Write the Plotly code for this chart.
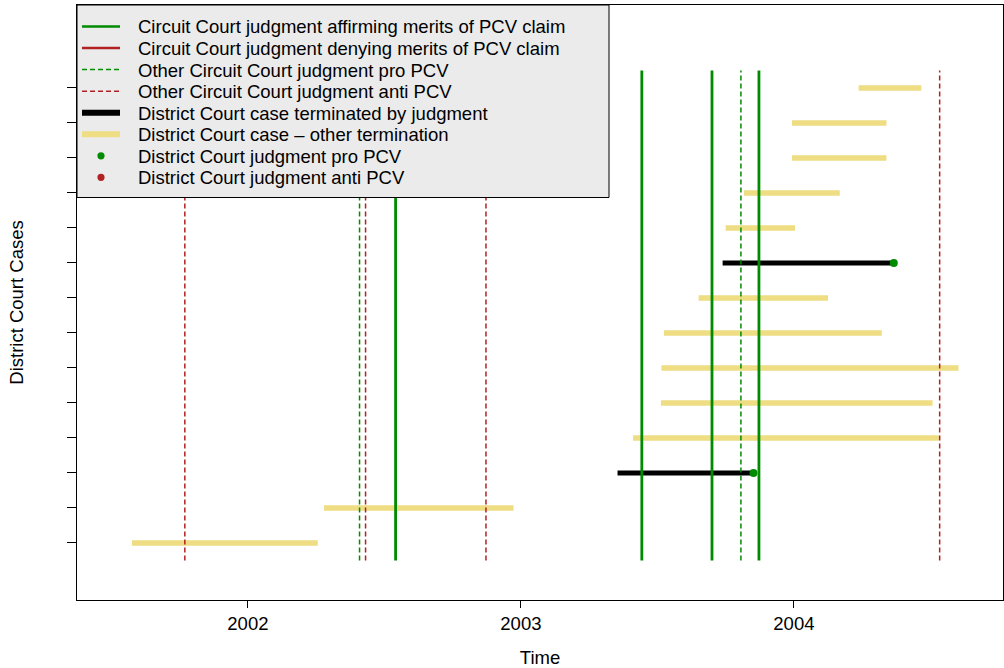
import plotly.graph_objects as go

# ---- data (decimal years) ----
case_row = [1, 2, 3, 4, 5, 6, 7, 8, 9, 10, 11, 12, 13, 14]
case_start = [2001.575, 2002.279, 2003.354, 2003.411, 2003.513, 2003.515, 2003.524,
              2003.651, 2003.739, 2003.750, 2003.817, 2003.993, 2003.993, 2004.237]
case_end = [2002.256, 2002.973, 2003.852, 2004.531, 2004.508, 2004.603, 2004.322,
            2004.125, 2004.366, 2004.004, 2004.168, 2004.339, 2004.339, 2004.467]
case_type = ["other", "other", "judgment", "other", "other", "other", "other",
             "other", "judgment", "other", "other", "other", "other", "other"]
case_outcome = [None, None, "pro", None, None, None, None,
                None, "pro", None, None, None, None, None]

cc_affirm = [2002.541, 2003.443, 2003.700, 2003.872]
cc_deny = []
cc_other_pro = [2002.409, 2003.806]
cc_other_anti = [2001.769, 2002.431, 2002.872, 2004.534]
vline_span = [0.5, 14.5]

x_ticks = [2002, 2003, 2004]
x_tick_labels = ["2002", "2003", "2004"]

legend_labels = [
    "Circuit Court judgment affirming merits of PCV claim",
    "Circuit Court judgment denying merits of PCV claim",
    "Other Circuit Court judgment pro PCV",
    "Other Circuit Court judgment anti PCV",
    "District Court case terminated by judgment",
    "District Court case \u2013 other termination",
    "District Court judgment pro PCV",
    "District Court judgment anti PCV",
]

GREEN = "#008B00"
RED = "#B22222"
YELLOW = "#EEDD82"
FONT = "Liberation Sans, Arial, Helvetica, sans-serif"

# plot-area geometry (pixels) used for the legend box placement
W, H = 1004, 668
ML, MR, MT, MB = 77, 1, 5, 68
PW, PH = W - ML - MR, H - MT - MB


def px(xp):
    return (xp - ML) / PW


def py(yp):
    return (MT + PH - yp) / PH


def seg_xy(starts, ends, rows):
    xs, ys = [], []
    for s, e, r in zip(starts, ends, rows):
        xs += [s, e, None]
        ys += [r, r, None]
    return xs, ys


def vlines(vals):
    xs, ys = [], []
    for v in vals:
        xs += [v, v, None]
        ys += [vline_span[0], vline_span[1], None]
    if not xs:
        xs, ys = [None], [None]
    return xs, ys


fig = go.Figure()

oth = [i for i, t in enumerate(case_type) if t == "other"]
jud = [i for i, t in enumerate(case_type) if t == "judgment"]
ox, oy = seg_xy([case_start[i] for i in oth], [case_end[i] for i in oth], [case_row[i] for i in oth])
jx, jy = seg_xy([case_start[i] for i in jud], [case_end[i] for i in jud], [case_row[i] for i in jud])

ax_, ay_ = vlines(cc_affirm)
dx_, dy_ = vlines(cc_deny)
pxs, pys = vlines(cc_other_pro)
nxs, nys = vlines(cc_other_anti)

fig.add_trace(go.Scatter(x=ox, y=oy, mode="lines", line=dict(color=YELLOW, width=5.5),
                         name=legend_labels[5], showlegend=False))
fig.add_trace(go.Scatter(x=jx, y=jy, mode="lines", line=dict(color="black", width=5),
                         name=legend_labels[4], showlegend=False))
fig.add_trace(go.Scatter(x=ax_, y=ay_, mode="lines", line=dict(color=GREEN, width=2.8),
                         name=legend_labels[0], showlegend=False))
fig.add_trace(go.Scatter(x=dx_, y=dy_, mode="lines", line=dict(color=RED, width=2.8),
                         name=legend_labels[1], showlegend=False))
fig.add_trace(go.Scatter(x=pxs, y=pys, mode="lines", line=dict(color=GREEN, width=1.5, dash="5px,3px"),
                         name=legend_labels[2], showlegend=False))
fig.add_trace(go.Scatter(x=nxs, y=nys, mode="lines", line=dict(color=RED, width=1.5, dash="5px,3px"),
                         name=legend_labels[3], showlegend=False))

pro_x = [case_end[i] for i in range(len(case_row)) if case_outcome[i] == "pro"]
pro_y = [case_row[i] for i in range(len(case_row)) if case_outcome[i] == "pro"]
anti_x = [case_end[i] for i in range(len(case_row)) if case_outcome[i] == "anti"]
anti_y = [case_row[i] for i in range(len(case_row)) if case_outcome[i] == "anti"]
fig.add_trace(go.Scatter(x=pro_x or [None], y=pro_y or [None], mode="markers",
                         marker=dict(color=GREEN, size=8), name=legend_labels[6], showlegend=False))
fig.add_trace(go.Scatter(x=anti_x or [None], y=anti_y or [None], mode="markers",
                         marker=dict(color=RED, size=8), name=legend_labels[7], showlegend=False))

# ---- legend box (drawn as layout shapes/annotations) ----
shapes = [dict(type="rect", xref="paper", yref="paper", layer="above",
               x0=px(77), x1=px(609), y0=py(197.5), y1=py(5),
               fillcolor="#EBEBEB", line=dict(color="black", width=1))]
annotations = []
leg_styles = [
    dict(kind="line", color=GREEN, width=2.5, dash="solid"),
    dict(kind="line", color=RED, width=2.5, dash="solid"),
    dict(kind="line", color=GREEN, width=1.5, dash="5px,3px"),
    dict(kind="line", color=RED, width=1.5, dash="5px,3px"),
    dict(kind="line", color="black", width=6, dash="solid"),
    dict(kind="line", color=YELLOW, width=6, dash="solid"),
    dict(kind="dot", color=GREEN),
    dict(kind="dot", color=RED),
]
row0, step = 26.5, 21.55
for k, (lab, st) in enumerate(zip(legend_labels, leg_styles)):
    yy = row0 + k * step
    if st["kind"] == "line":
        shapes.append(dict(type="line", xref="paper", yref="paper", layer="above",
                           x0=px(82), x1=px(120), y0=py(yy), y1=py(yy),
                           line=dict(color=st["color"], width=st["width"], dash=st["dash"])))
    else:
        r = 3.6
        shapes.append(dict(type="circle", xref="paper", yref="paper", layer="above",
                           x0=px(101 - r), x1=px(101 + r), y0=py(yy + r), y1=py(yy - r),
                           fillcolor=st["color"], line=dict(color=st["color"], width=0)))
    annotations.append(dict(text=lab, xref="paper", yref="paper", x=px(137), y=py(yy + 0.5),
                            xanchor="left", yanchor="middle", showarrow=False,
                            font=dict(family=FONT, size=18.5, color="black"), borderpad=0))

fig.update_layout(
    width=W, height=H,
    margin=dict(l=ML, r=MR, t=MT, b=MB),
    plot_bgcolor="white", paper_bgcolor="white",
    font=dict(family=FONT, size=18.5, color="black"),
    showlegend=False,
    shapes=shapes, annotations=annotations,
    xaxis=dict(range=[2001.374, 2004.766], tickvals=x_ticks, ticktext=x_tick_labels,
               showgrid=False, zeroline=False, showline=True, linecolor="black", linewidth=1,
               mirror=True, ticks="outside", ticklen=7, tickcolor="black", automargin=False,
               tickfont=dict(size=18.5),
               title=dict(text="Time", standoff=18, font=dict(size=18.5))),
    yaxis=dict(range=[-0.63, 16.37], tickvals=case_row, showticklabels=False,
               showgrid=False, zeroline=False, showline=True, linecolor="black", linewidth=1,
               mirror=True, ticks="outside", ticklen=9, tickcolor="black", automargin=False,
               title=dict(text="District Court Cases", standoff=38, font=dict(size=18.5))),
)

fig.write_html(
    "out.html",
    config={"responsive": False, "displayModeBar": False},
    post_script="document.body.style.margin='0';document.body.style.overflow='hidden';"
                "document.documentElement.style.overflow='hidden';",
)
